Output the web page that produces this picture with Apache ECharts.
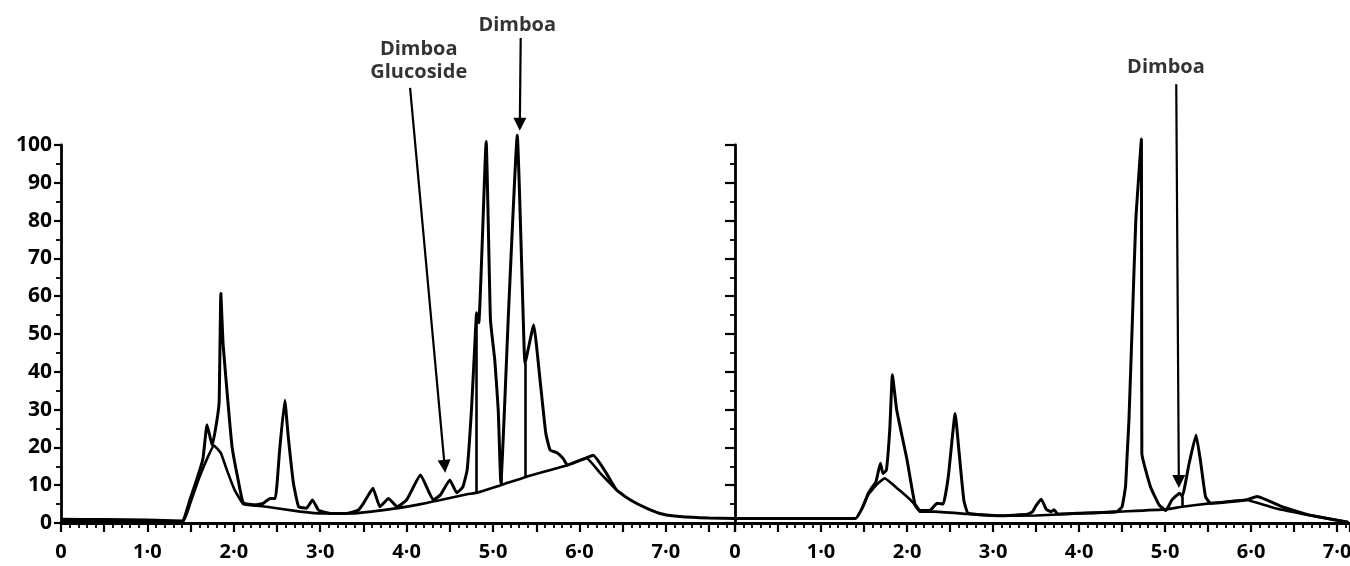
<!DOCTYPE html>
<html>
<head>
<meta charset="utf-8">
<script src="https://cdn.jsdelivr.net/npm/echarts@6/dist/echarts.min.js"></script>
<style>
html, body { margin: 0; padding: 0; background: #fff; }
#chart { width: 1350px; height: 566px; }
</style>
</head>
<body>
<div id="chart"></div>
<script>
// left run: detector trace and drawn baseline, [time, response]
var leftTrace = [
  [0, 1.0], [0.5, 0.9], [1.0, 0.8], [1.40, 0.5],
  [1.49, 6], [1.64, 16.7], [1.69, 26], [1.75, 20.5], [1.80, 26.5], [1.83, 32], [1.85, 60.8],
  [1.875, 47.6], [1.93, 32.5], [1.98, 20.1], [2.05, 11.4], [2.11, 5.3],
  [2.25, 4.8], [2.34, 5.2], [2.42, 6.5], [2.48, 6.5], [2.53, 19.3], [2.59, 32.5], [2.63, 22.8],
  [2.69, 10.5], [2.75, 4.3], [2.84, 3.9], [2.91, 6.1], [2.98, 3.4], [3.1, 2.6], [3.3, 2.5],
  [3.44, 3.4], [3.5, 5.2], [3.61, 9.2], [3.69, 4.3], [3.79, 6.5], [3.89, 4.3], [4.0, 6.1],
  [4.16, 12.7], [4.31, 6.1], [4.39, 7.4], [4.5, 11.4], [4.58, 8], [4.65, 9.5],
  [4.70, 14], [4.75, 29.9], [4.79, 47.6], [4.81, 55.6], [4.835, 53], [4.92, 100.9],
  [4.97, 53.7], [5.02, 43.1], [5.06, 29.9], [5.09, 10.6],
  [5.18, 56.3], [5.28, 102.6], [5.35, 53.7], [5.37, 42.3], [5.47, 52.4], [5.54, 38.7],
  [5.61, 23.8], [5.66, 19.3], [5.74, 18.6], [5.81, 17.1], [5.86, 15.3],
  [6.0, 16.5], [6.08, 17.2], [6.16, 17.9], [6.30, 13.6], [6.43, 8.7], [6.59, 6.1],
  [6.78, 3.9], [6.97, 2.3], [7.16, 1.7], [7.5, 1.3], [7.8, 1.2]
];
var leftBase = [
  [0, 0.6], [1.0, 0.5], [1.41, 0.3], [1.5, 5.5], [1.6, 12], [1.7, 17.5], [1.77, 20.5],
  [1.85, 18.5], [1.92, 14], [2.01, 8.7], [2.09, 5.6], [2.11, 5.0], [2.38, 4.3], [2.77, 3.0],
  [3.04, 2.5], [3.34, 2.5], [3.73, 3.4], [4.12, 4.8], [4.38, 6.0], [4.70, 7.6], [4.81, 8.0],
  [5.09, 10.0], [5.38, 12.2], [5.86, 15.3], [6.08, 17.2], [6.24, 13.2], [6.43, 8.7]
];
// perpendicular drops: [time, top, bottom]
var leftDrops = [[4.81, 53.0, 8.0], [5.09, 12.0, 10.0], [5.37, 42.3, 12.2]];

// right run
var rightTrace = [
  [0, 1.2], [1.40, 1.2], [1.48, 4.0], [1.55, 7.9], [1.59, 9.3], [1.64, 11], [1.69, 15.8],
  [1.72, 13.1], [1.76, 14], [1.80, 25], [1.83, 39.2], [1.88, 29.9], [2.0, 16.7], [2.09, 5.2],
  [2.15, 3.3], [2.27, 3.4], [2.35, 5.2], [2.42, 5.0], [2.48, 12.3], [2.56, 29], [2.60, 20],
  [2.66, 6.1], [2.71, 2.6], [3.08, 1.9], [3.4, 2.3], [3.46, 3.0], [3.50, 4.6], [3.56, 6.3],
  [3.62, 3.6], [3.67, 3.0], [3.71, 3.5], [3.75, 2.4], [4.0, 2.6], [4.44, 3.0], [4.50, 4.3],
  [4.54, 9.6], [4.56, 18.4], [4.58, 27.2], [4.62, 53.7], [4.66, 80.2], [4.725, 101.6],
  [4.73, 18.4], [4.83, 9.6], [4.93, 4.8], [5.01, 3.3], [5.08, 6.1], [5.17, 7.9], [5.20, 7.0],
  [5.28, 15.8], [5.36, 23.3], [5.41, 16.7], [5.47, 7.0], [5.53, 5.2], [5.75, 5.6], [5.94, 6.1],
  [6.07, 7.0], [6.36, 4.3], [6.67, 2.1], [7.13, 0.2]
];
var rightBase = [
  [0, 1.2], [1.40, 1.2], [1.48, 4.0], [1.55, 7.5], [1.65, 10.2], [1.74, 11.8], [1.91, 8.7],
  [2.07, 5.4], [2.15, 3.0], [2.31, 3.0], [2.7, 2.4], [3.08, 1.9], [3.5, 2.0], [4.0, 2.5],
  [4.44, 3.0], [5.01, 3.6], [5.20, 4.3], [5.52, 5.2], [5.94, 6.1], [6.28, 3.9], [6.67, 2.1],
  [7.13, 0.2]
];
var rightDrops = [[5.20, 7.0, 4.3]];

// annotations: [text, time, response] and arrows [x1, y1, x2, y2]
var leftNotes = [['Dimboa', 5.28, 131.7], ['Dimboa\nGlucoside', 4.14, 122.2]];
var leftArrows = [[5.32, 128.3, 5.31, 105.5], [4.04, 115.1, 4.44, 15.0]];
var rightNotes = [['Dimboa', 5.01, 120.6]];
var rightArrows = [[5.13, 116.1, 5.16, 11.0]];

var leftMax = 7.8, rightMax = 7.15;

var FONT = '"Open Sans", sans-serif';
var chart = echarts.init(document.getElementById('chart'));

function xLabel(v) {
  if (Math.abs(v - Math.round(v)) > 1e-6) return '';
  return v === 0 ? '0' : Math.round(v) + '·0';
}
function makeX(i, max) {
  return {
    type: 'value', gridIndex: i, min: 0, max: max, interval: 0.5,
    axisLine: { show: true, onZero: false, lineStyle: { color: '#000', width: 2.8 } },
    axisTick: { show: true, inside: false, length: 9, lineStyle: { color: '#000', width: 2.2 } },
    minorTick: { show: true, splitNumber: 5, length: 5, lineStyle: { color: '#000', width: 1.8 } },
    axisLabel: { formatter: xLabel, margin: 19, color: '#000', fontFamily: FONT, fontWeight: 'bold', fontSize: 20, showMaxLabel: false },
    splitLine: { show: false }
  };
}
function makeY(i, labels) {
  return {
    type: 'value', gridIndex: i, min: 0, max: 100, interval: 10,
    axisLine: { show: true, lineStyle: { color: '#000', width: 2.8 } },
    axisTick: { show: true, length: labels ? 7 : 10, lineStyle: { color: '#000', width: 2.2 } },
    minorTick: { show: true, splitNumber: 2, length: 5, lineStyle: { color: '#000', width: 1.8 } },
    axisLabel: { show: labels, margin: 9, color: '#000', fontFamily: FONT, fontWeight: 'bold', fontSize: 21 },
    splitLine: { show: false }
  };
}
function curve(i, data, w) {
  return {
    type: 'line', xAxisIndex: i, yAxisIndex: i, data: data, symbol: 'none', clip: false,
    smooth: 0.12,
    silent: true, lineStyle: { color: '#000', width: w }
  };
}
function segs(i, list, arrow) {
  return {
    type: 'lines', coordinateSystem: 'cartesian2d', xAxisIndex: i, yAxisIndex: i, clip: false, silent: true,
    symbol: arrow ? ['none', 'triangle'] : 'none', symbolSize: arrow ? 13 : 0,
    lineStyle: { color: '#000', width: arrow ? 2.2 : 2.6, opacity: 1 },
    data: list.map(function (d) {
      return arrow ? { coords: [[d[0], d[1]], [d[2], d[3]]] } : { coords: [[d[0], d[1]], [d[0], d[2]]] };
    })
  };
}
function notes(i, list) {
  return {
    type: 'scatter', xAxisIndex: i, yAxisIndex: i, clip: false, silent: true, symbolSize: 1,
    itemStyle: { color: 'rgba(0,0,0,0)' },
    label: { show: true, position: 'inside', formatter: '{b}', color: '#000', fontFamily: FONT, fontWeight: 'bold', fontSize: 20, lineHeight: 23 },
    data: list.map(function (n) { return { name: n[0], value: [n[1], n[2]] }; })
  };
}

chart.setOption({
  animation: false,
  backgroundColor: '#fff',
  grid: [
    { left: 61, top: 145, width: 674, height: 378, containLabel: false, outerBoundsMode: 'none' },
    { left: 735, top: 145, width: 615, height: 378, containLabel: false, outerBoundsMode: 'none' }
  ],
  xAxis: [makeX(0, leftMax), makeX(1, rightMax)],
  yAxis: [makeY(0, true), makeY(1, false)],
  series: [
    curve(0, leftBase, 2.6), curve(0, leftTrace, 3), segs(0, leftDrops, false),
    segs(0, leftArrows, true), notes(0, leftNotes),
    curve(1, rightBase, 2.6), curve(1, rightTrace, 3), segs(1, rightDrops, false),
    segs(1, rightArrows, true), notes(1, rightNotes)
  ]
});
</script>
</body>
</html>
